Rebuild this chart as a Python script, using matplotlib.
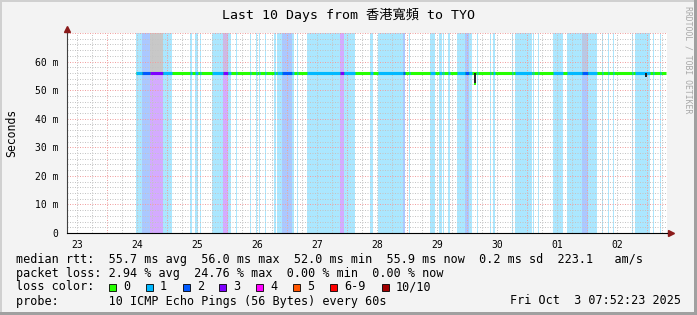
import matplotlib
matplotlib.use("Agg")
import matplotlib.pyplot as plt
from matplotlib.patches import Rectangle

W, H = 697, 315
mono = ["DejaVu Sans Mono", "Noto Sans CJK TC"]

# time axis in days since Sep 23 00:00
x_start, x_end = 0.328, 10.328
day_pos = [0.5, 1.5, 2.5, 3.5, 4.5, 5.5, 6.5, 7.5, 8.5, 9.5]
day_labels = ["23", "24", "25", "26", "27", "28", "29", "30", "01", "02"]

# median rtt (ms)
median_t = [1.478, 10.317]
median_ms = [55.9, 55.9]
dip_t = [7.133, 9.983]
dip_ms = [52.0, 54.6]

# loss periods: start, end (days), loss count out of 10
band_start = [1.478, 1.578, 1.712, 1.928, 2.378, 2.462, 2.545, 2.745, 2.928, 3.012,
              3.145, 3.378, 3.478, 3.528, 3.628, 3.778, 3.828, 3.912, 4.078, 4.162,
              4.328, 4.878, 4.945, 5.378, 5.512, 5.928, 6.028, 6.378, 6.528, 6.595,
              6.678, 6.828, 6.962, 7.028, 7.162, 7.378, 7.428, 7.745, 7.795, 8.095,
              8.178, 8.428, 8.662, 8.912, 9.012, 9.245, 9.345, 9.428, 9.745, 9.795,
              10.095, 10.212]
band_end = [1.578, 1.712, 1.928, 2.078, 2.412, 2.512, 2.562, 2.928, 3.012, 3.062,
            3.162, 3.395, 3.495, 3.545, 3.645, 3.812, 3.912, 4.078, 4.112, 4.178,
            4.878, 4.945, 5.128, 5.428, 5.928, 5.962, 6.045, 6.462, 6.578, 6.612,
            6.712, 6.962, 7.028, 7.078, 7.178, 7.395, 7.462, 7.762, 8.078, 8.112,
            8.195, 8.595, 8.912, 9.012, 9.162, 9.262, 9.362, 9.445, 9.762, 10.045,
            10.112, 10.228]
band_loss = [1, 2, 3, 1, 1, 1, 1, 1, 3, 1,
             1, 1, 1, 1, 1, 1, 1, 2, 1, 1,
             1, 3, 1, 1, 1, 2, 1, 1, 1, 1,
             1, 1, 2, 1, 1, 1, 1, 1, 1, 1,
             1, 1, 1, 2, 1, 1, 1, 1, 1, 1,
             1, 1]

# smoke reaching above the graph top
smoke_start = [1.712, 2.928, 8.912]
smoke_end = [1.928, 3.012, 9.012]
smoke_alpha = [1.0, 0.45, 0.45]

loss_labels = ["0", "1", "2", "3", "4", "5", "6-9", "10/10"]
loss_colors = ["#26ff00", "#00b8ff", "#0059ff", "#7e00ff", "#ff00ff", "#ff5500", "#ff0000", "#a10000"]


def px(x, y):
    return x / W, 1 - y / H


fig = plt.figure(figsize=(W / 100, H / 100), dpi=100, facecolor="#f3f3f3")
ax = fig.add_axes([67 / W, (H - 233) / H, 600 / W, 200 / H])
ax.set_facecolor("white")
ax.set_xlim(x_start, x_end)
ax.set_ylim(0, 70)

# loss background
for s, e, l in zip(band_start, band_end, band_loss):
    ax.axvspan(s, e, color=loss_colors[l], alpha=0.33, lw=0, zorder=1)

# smoke
for s, e, a in zip(smoke_start, smoke_end, smoke_alpha):
    ax.fill_between([s, e], [55.9, 55.9], [70, 70], color="#c8c8c8", alpha=a, lw=0, zorder=2)

# grid, dotted
dots = (0, (1, 1.5))
grid_kw = dict(lw=0.72, ls=dots, zorder=3)
for i in range(0, 42):
    d = i * 0.25
    if x_start < d < x_end and i % 4:
        ax.axvline(d, color="#c4c4c4", **grid_kw)
for d in range(1, 11):
    ax.axvline(d, color="#f0a0a0", **grid_kw)
for v in range(2, 71, 2):
    if v % 10:
        ax.axhline(v, color="#c4c4c4", **grid_kw)
for v in range(10, 71, 10):
    ax.axhline(v, color="#f0a0a0", **grid_kw)

# median line coloured by loss
ax.plot(median_t, median_ms, color=loss_colors[0], lw=2.2, solid_capstyle="butt", zorder=5)
for s, e, l in zip(band_start, band_end, band_loss):
    ax.plot([s, e], [55.9, 55.9], color=loss_colors[l], lw=2.2, solid_capstyle="butt", zorder=6)
ax.vlines(dip_t, dip_ms, 55.9, color="#202020", lw=1.4, zorder=7)
ax.plot(dip_t[:1], dip_ms[:1], "s", color=loss_colors[0], ms=1.6, mew=0, zorder=8)

ax.set_yticks(range(0, 70, 10))
ax.set_yticklabels(["0"] + ["%d m" % v for v in range(10, 70, 10)], family=mono, fontsize=7)
ax.set_xticks(day_pos)
ax.set_xticklabels(day_labels, family=mono, fontsize=7)
ax.tick_params(length=0, pad=6)
ax.tick_params(axis="x", pad=5)
for side in ["top", "right"]:
    ax.spines[side].set_visible(False)
ax.spines["left"].set_color("#404040")
ax.spines["left"].set_linewidth(0.8)
ax.spines["bottom"].set_color("black")
ax.spines["bottom"].set_linewidth(0.8)
ax.spines["left"].set_zorder(10)
ax.spines["bottom"].set_zorder(10)
ax.plot([0, 0], [1, 1.02], color="#404040", lw=0.8, transform=ax.transAxes, clip_on=False)
ax.plot([1, 1.007], [0, 0], color="black", lw=0.8, transform=ax.transAxes, clip_on=False)
ax.plot([0], [1.02], marker="^", color="#8b1a1a", ms=4.5, transform=ax.transAxes, clip_on=False)
ax.plot([1.007], [0], marker=">", color="#8b1a1a", ms=4.5, transform=ax.transAxes, clip_on=False)

fig.text(*px(12, 133), "Seconds", rotation=90, ha="center", va="center", family=mono, fontsize=8.3)
fig.text(*px(348, 15), "Last 10 Days from 香港寬頻 to TYO", ha="center", va="center",
         family=mono, fontsize=9.5)
fig.text(*px(688, 60), "RRDTOOL / TOBI OETIKER", rotation=-90, ha="center", va="center",
         family=mono, fontsize=5.9, color="#a8a8a8")

rows = [
    "median rtt:  55.7 ms avg  56.0 ms max  52.0 ms min  55.9 ms now  0.2 ms sd  223.1   am/s",
    "packet loss: 2.94 % avg  24.76 % max  0.00 % min  0.00 % now",
    "loss color:",
    "probe:       10 ICMP Echo Pings (56 Bytes) every 60s",
]
row_y = [259, 273, 287, 301]
for t, y in zip(rows, row_y):
    fig.text(*px(16, y), t, ha="left", va="center", family=mono, fontsize=8.5)
fig.text(*px(681, 301), "Fri Oct  3 07:52:23 2025", ha="right", va="center", family=mono, fontsize=8.5)

sq_x = [109, 146, 183, 219, 256, 293, 330, 382]
for x, lab, c in zip(sq_x, loss_labels, loss_colors):
    fig.patches.append(Rectangle(px(x, 290.5), 7 / W, 7 / H, transform=fig.transFigure,
                                 facecolor=c, edgecolor="black", lw=0.6))
    fig.text(*px(x + 14, 287), lab, ha="left", va="center", family=mono, fontsize=8.5)

# frame
fig.patches.append(Rectangle((0, 1 - 2 / H), 1, 2 / H, transform=fig.transFigure, color="#d0d0d0", lw=0))
fig.patches.append(Rectangle((0, 0), 2 / W, 1, transform=fig.transFigure, color="#d0d0d0", lw=0))
fig.patches.append(Rectangle((1 - 3 / W, 0), 3 / W, 1, transform=fig.transFigure, color="#a0a0a0", lw=0))
fig.patches.append(Rectangle((0, 0), 1, 3 / H, transform=fig.transFigure, color="#a0a0a0", lw=0))

fig.savefig("out.png", dpi=100, facecolor=fig.get_facecolor())
